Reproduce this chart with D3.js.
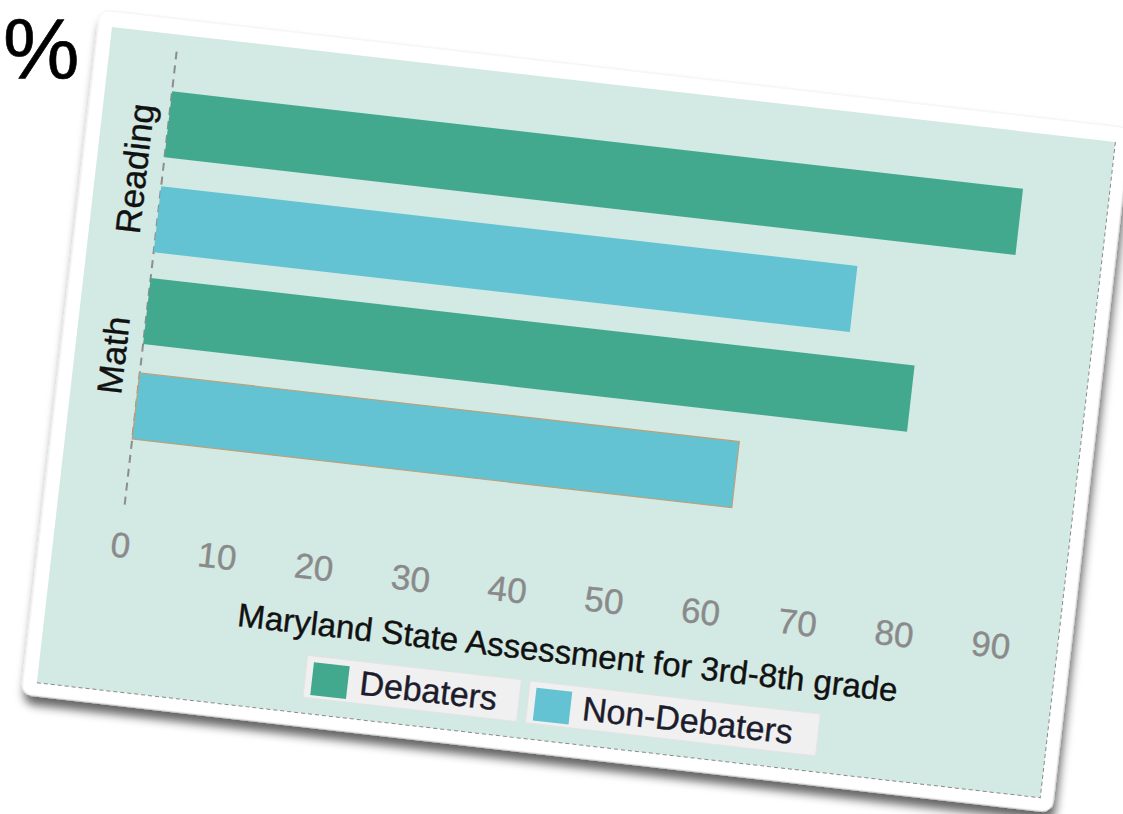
<!DOCTYPE html>
<html>
<head>
<meta charset="utf-8">
<script src="https://cdn.jsdelivr.net/npm/d3@7/dist/d3.min.js"></script>
<style>
  html, body { margin: 0; padding: 0; background: #ffffff; }
  svg { display: block; }
  text { font-family: "Liberation Sans", Arial, sans-serif; }
</style>
</head>
<body>
<svg id="chart" width="1123" height="814"></svg>
<script>
// ---- data ----
const categories = ["Reading", "Math"];
const seriesNames = ["Debaters", "Non-Debaters"];
const debaters = [88, 79];
const nonDebaters = [72, 62];
const xTicks = [0, 10, 20, 30, 40, 50, 60, 70, 80, 90];
const xTitle = "Maryland State Assessment for 3rd-8th grade";
const cornerLabel = "%";
const seriesColors = ["#42a98f", "#63c3d3"];

// ---- layout ----
const W = 1123, H = 814;
const panelW = 1010, panelH = 660;
const angle = 6.54;
const origin = [112, 27];
const plotTop = 17, plotBottom = 478;

const svg = d3.select("#chart");
const defs = svg.append("defs");
const f = defs.append("filter").attr("id", "shadow")
  .attr("x", "-5%").attr("y", "-5%").attr("width", "115%").attr("height", "120%");
f.append("feDropShadow").attr("dx", 3).attr("dy", 9).attr("stdDeviation", 5)
  .attr("flood-color", "#000").attr("flood-opacity", 0.6);

svg.append("rect").attr("width", W).attr("height", H).attr("fill", "#ffffff");

svg.append("text").attr("x", 3).attr("y", 79)
  .attr("font-size", 86).attr("font-family", "'Noto Sans', 'Open Sans', sans-serif")
  .attr("fill", "#000").attr("stroke", "#000").attr("stroke-width", 0.6)
  .text(cornerLabel);

const g = svg.append("g")
  .attr("transform", `translate(${origin[0]},${origin[1]}) rotate(${angle})`);

// card
g.append("rect").attr("x", -14).attr("y", -16)
  .attr("width", panelW + 27).attr("height", panelH + 29)
  .attr("rx", 10).attr("fill", "#ffffff")
  .attr("stroke", "#f0f0f0").attr("stroke-width", 1)
  .attr("filter", "url(#shadow)");

// panel
g.append("rect").attr("width", panelW).attr("height", panelH).attr("fill", "#d3e9e3");
g.append("path")
  .attr("d", `M${panelW},0 V${panelH} H0`)
  .attr("fill", "none").attr("stroke", "#8a8a8a").attr("stroke-width", 1)
  .attr("stroke-dasharray", "4,3");

// scales
const data = categories.map((c, i) => ({ cat: c, values: [debaters[i], nonDebaters[i]] }));
const x = d3.scaleLinear().domain([0, 90]).range([67, 943]);
const y0 = d3.scaleBand().domain(categories).range([17, 447]).paddingInner(0.138).paddingOuter(0.213);
const y1 = d3.scaleBand().domain(seriesNames).range([0, y0.bandwidth()]).paddingInner(0.304).paddingOuter(0);

// dashed axis line
g.append("line").attr("x1", x(0)).attr("x2", x(0))
  .attr("y1", plotTop).attr("y2", plotBottom)
  .attr("stroke", "#8d8d8d").attr("stroke-width", 2).attr("stroke-dasharray", "8,6");

// bars
const groups = g.selectAll("g.grp").data(data).join("g")
  .attr("class", "grp").attr("transform", d => `translate(0,${y0(d.cat)})`);
groups.selectAll("rect").data(d => d.values.map((v, j) => ({ v, s: seriesNames[j], j, cat: d.cat })))
  .join("rect")
  .attr("x", x(0))
  .attr("y", d => y1(d.s))
  .attr("width", d => x(d.v) - x(0))
  .attr("height", y1.bandwidth())
  .attr("fill", d => seriesColors[d.j])
  .attr("stroke", d => (d.cat === "Math" && d.j === 1) ? "#b9a27a" : "none")
  .attr("stroke-width", 1.2);

// x axis (labels only)
const xAxis = g.append("g").attr("transform", `translate(0,498)`)
  .call(d3.axisBottom(x).tickValues(xTicks).tickSize(0).tickPadding(3));
xAxis.select(".domain").remove();
xAxis.selectAll("text").attr("font-size", 35).attr("fill", "#8a8a8a")
  .attr("stroke", "#8a8a8a").attr("stroke-width", 0.4)
  .attr("font-family", "Liberation Sans, Arial, sans-serif");

// y axis (category labels)
const yAxis = g.append("g").attr("transform", `translate(51,0)`)
  .call(d3.axisLeft(y0).tickSize(0));
yAxis.select(".domain").remove();
yAxis.selectAll("text")
  .attr("x", 0).attr("y", 0).attr("dy", 0)
  .attr("transform", "rotate(-90)")
  .attr("text-anchor", "middle")
  .attr("font-size", 35).attr("fill", "#111")
  .attr("stroke", "#111").attr("stroke-width", 0.4)
  .attr("font-family", "Liberation Sans, Arial, sans-serif");

// x title
g.append("text").attr("x", 524).attr("y", 581)
  .attr("text-anchor", "middle").attr("font-size", 33).attr("fill", "#111")
  .attr("stroke", "#111").attr("stroke-width", 0.4)
  .text(xTitle);

// legend
const legendItems = [
  { name: seriesNames[0], color: seriesColors[0], x: 266, w: 215 },
  { name: seriesNames[1], color: seriesColors[1], x: 490, w: 292 }
];
const lg = g.append("g").attr("transform", "translate(0,602)");
const li = lg.selectAll("g").data(legendItems).join("g")
  .attr("transform", d => `translate(${d.x},0)`);
li.append("rect").attr("width", d => d.w).attr("height", 42)
  .attr("fill", "#f0f0f0").attr("stroke", "#e4e4e4").attr("stroke-width", 1);
li.append("rect").attr("x", 7).attr("y", 6).attr("width", 36).attr("height", 33)
  .attr("fill", d => d.color);
li.append("text").attr("x", 55).attr("y", 33)
  .attr("font-size", 34).attr("fill", "#1c1c2c")
  .attr("stroke", "#1c1c2c").attr("stroke-width", 0.4)
  .text(d => d.name);
</script>
</body>
</html>
